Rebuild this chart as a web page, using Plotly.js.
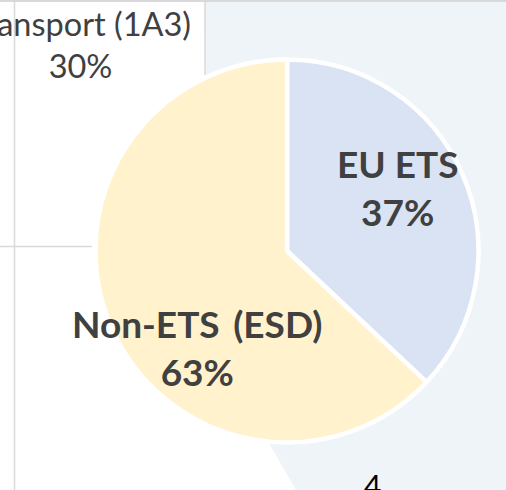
<!DOCTYPE html>
<html>
<head>
<meta charset="utf-8">
<script src="https://cdn.plot.ly/plotly-3.0.1.min.js"></script>
<style>
html,body{margin:0;padding:0;background:#ffffff;}
#chart{width:506px;height:490px;}
</style>
</head>
<body>
<div id="chart"></div>
<script>
// Data
var labels = ["EU ETS", "Non-ETS&#8201; (ESD)"];
var values = [37, 63];
var sliceColors = ["#DAE3F3", "#FFF2CC"];
var sideLabels = ["Transport (1A3)"];
var sideValues = [30];
var slideNumber = "4";

var W = 506, H = 490;
function px(x){ return x / W; }
function py(y){ return 1 - y / H; }

var cx = 287, cy = 251, r = 191.5;

var total = values.reduce(function(a,b){return a+b;},0);
function pct(v){ return Math.round(v / total * 100) + "%"; }

var trace = {
  type: "pie",
  labels: labels,
  values: values,
  sort: false,
  direction: "clockwise",
  rotation: 0,
  textinfo: "none",
  hoverinfo: "label+percent",
  marker: { colors: sliceColors, line: { color: "#ffffff", width: 4.5 } },
  domain: { x: [px(cx - r), px(cx + r)], y: [py(cy + r), py(cy - r)] },
  showlegend: false
};

function pathFrom(pts){
  return pts.map(function(p,i){ return (i===0?"M":"L") + px(p[0]) + "," + py(p[1]); }).join(" ") + " Z";
}

var bgPoly = [[205,2],[506,2],[506,490],[296,490],[244,400],[206,75]];

var shapes = [
  { type: "path", xref: "paper", yref: "paper", path: pathFrom(bgPoly),
    fillcolor: "#EEF4F8", line: { width: 0 }, layer: "below" },
  { type: "line", xref: "paper", yref: "paper", x0: px(0), x1: px(506), y0: py(1), y1: py(1),
    line: { color: "#D9D9D9", width: 2 }, layer: "below" },
  { type: "line", xref: "paper", yref: "paper", x0: px(14.5), x1: px(14.5), y0: py(0), y1: py(490),
    line: { color: "#D9D9D9", width: 1.5 }, layer: "below" },
  { type: "line", xref: "paper", yref: "paper", x0: px(205), x1: px(205), y0: py(0), y1: py(75),
    line: { color: "#D9D9D9", width: 1.5 }, layer: "below" },
  { type: "line", xref: "paper", yref: "paper", x0: px(0), x1: px(92), y0: py(246.5), y1: py(246.5),
    line: { color: "#D9D9D9", width: 1.5 }, layer: "below" }
];

var labelPos = [[397, 187], [197, 347]];
var annotations = labels.map(function(l, i){
  return {
    xref: "paper", yref: "paper", x: px(labelPos[i][0]), y: py(labelPos[i][1]),
    xanchor: "center", yanchor: "middle", showarrow: false,
    text: "<b>" + l + "<br>" + pct(values[i]) + "</b>",
    font: { family: "Lato, 'Open Sans', sans-serif", size: 37, color: "#404040" }
  };
});
annotations.push({
  xref: "paper", yref: "paper", x: px(80), y: py(45),
  xanchor: "center", yanchor: "middle", showarrow: false,
  text: sideLabels[0] + "<br>" + sideValues[0] + "%",
  font: { family: "Lato, 'Open Sans', sans-serif", size: 32.5, color: "#404040" }
});
annotations.push({
  xref: "paper", yref: "paper", x: px(372), y: py(465),
  xanchor: "center", yanchor: "top", showarrow: false,
  text: slideNumber,
  font: { family: "Lato, 'Open Sans', sans-serif", size: 30, color: "#000000" }
});

var layout = {
  width: W, height: H,
  margin: { l: 0, r: 0, t: 0, b: 0, pad: 0 },
  paper_bgcolor: "#ffffff",
  plot_bgcolor: "#ffffff",
  showlegend: false,
  shapes: shapes,
  annotations: annotations
};

Plotly.newPlot("chart", [trace], layout, { displayModeBar: false, staticPlot: true });
</script>
</body>
</html>
